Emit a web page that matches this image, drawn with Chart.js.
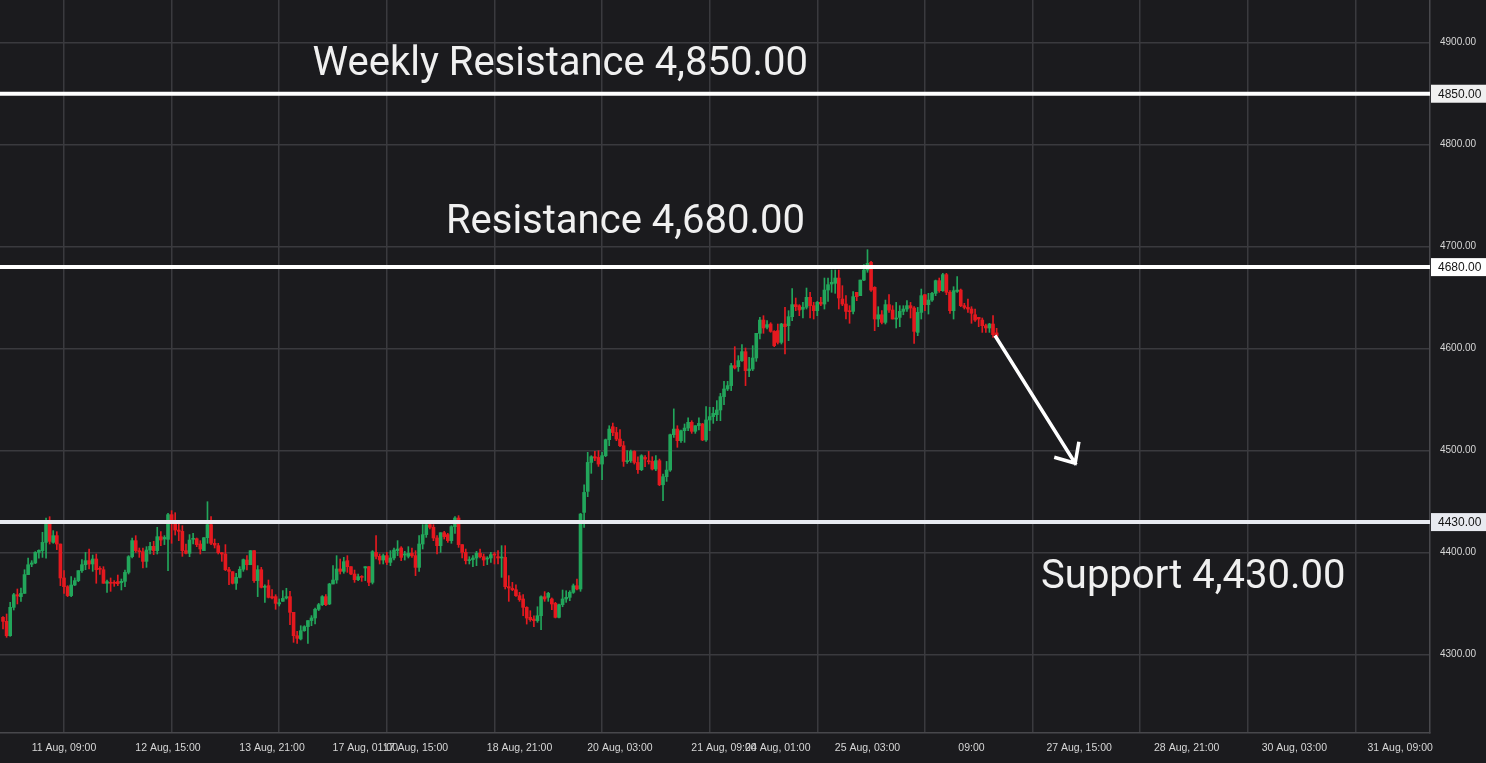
<!DOCTYPE html>
<html>
<head>
<meta charset="utf-8">
<script src="https://cdn.jsdelivr.net/npm/chart.js@4.4.1/dist/chart.umd.min.js"></script>
<style>
  html, body { margin: 0; padding: 0; background: #1b1b1e; }
  #wrap { width: 1486px; height: 763px; }
</style>
</head>
<body>
<div id="wrap"><canvas id="chart"></canvas></div>
<script>
// hourly candles, one per slot
const opens = [
  4336.6,4332.7,4318.6,4346.4,4358.8,4356.9,4360.1,4378.5,4388.6,4389.9,4400.3,4402.0,4410.1,4428.8,4410.1,4416.7,4408.5,4375.2,4366.7,4357.9,
  4368.3,4372.6,4382.4,4388.2,4392.2,4388.9,4393.8,4384.3,4383.3,4370.0,4370.9,4370.9,4371.6,4370.6,4371.9,4380.7,4396.1,4411.8,4402.0,4401.0,
  4391.5,4402.6,4406.2,4402.0,4415.7,4413.4,4413.1,4437.3,4428.1,4422.2,4420.9,4402.0,4399.4,4413.1,4413.7,4408.5,4402.0,4414.7,4427.5,4409.2,
  4406.9,4400.0,4398.7,4383.3,4381.4,4370.0,4375.8,4383.7,4392.8,4388.2,4402.0,4372.6,4383.3,4366.0,4367.7,4356.9,4356.9,4349.7,4352.3,4355.6,
  4356.9,4341.5,4318.6,4315.4,4323.5,4327.5,4333.4,4336.0,4344.5,4349.0,4356.9,4349.7,4369.3,4373.2,4384.0,4381.7,4392.2,4386.3,4379.1,4373.5,
  4376.5,4385.0,4386.3,4370.9,4400.3,4396.4,4392.8,4397.1,4390.5,4394.8,4402.0,4404.6,4397.7,4396.4,4399.4,4397.1,4385.6,4408.5,4417.7,4427.5,
  4424.9,4414.4,4406.9,4419.6,4417.7,4411.8,4425.5,4434.0,4407.9,4400.3,4392.2,4393.2,4394.8,4399.4,4396.1,4393.8,4394.8,4398.7,4396.1,4394.8,
  4395.4,4366.7,4365.0,4363.7,4357.8,4354.6,4346.4,4336.6,4334.9,4333.3,4338.2,4356.8,4356.2,4354.6,4350.3,4336.6,4349.0,4354.6,4356.2,4361.1,
  4367.6,4364.4,4439.5,4460.1,4488.5,4494.1,4493.4,4486.9,4495.1,4510.8,4523.5,4517.8,4511.4,4504.9,4489.2,4490.2,4499.3,4488.5,4481.4,4493.4,
  4490.2,4489.5,4482.0,4490.2,4466.6,4474.5,4481.0,4515.7,4521.2,4509.8,4519.6,4522.2,4527.8,4519.0,4524.5,4526.2,4510.5,4530.1,4533.4,4535.3,
  4539.9,4553.0,4560.5,4563.8,4583.4,4582.4,4588.3,4597.1,4578.5,4580.1,4590.9,4615.1,4628.1,4621.0,4624.2,4617.0,4617.7,4606.2,4624.2,4622.6,
  4631.4,4643.2,4642.2,4638.6,4640.6,4650.4,4642.2,4637.3,4645.5,4643.8,4657.5,4663.4,4664.1,4669.3,4648.7,4643.8,4636.6,4636.6,4655.3,4652.0,
  4667.3,4677.1,4684.7,4660.2,4629.1,4633.3,4625.8,4643.2,4637.9,4629.1,4630.7,4636.6,4638.9,4642.2,4639.9,4616.0,4635.6,4653.0,4643.2,4647.7,
  4654.3,4666.7,4656.9,4672.6,4655.3,4637.3,4656.2,4657.5,4642.2,4640.5,4638.9,4633.3,4630.7,4628.1,4622.6,4620.3,4624.2,4615.5
];
const highs = [
  4337.3,4339.9,4351.3,4360.1,4364.4,4365.4,4383.3,4394.8,4392.2,4401.0,4402.9,4420.0,4434.0,4435.3,4421.6,4420.6,4408.5,4382.4,4367.7,4376.5,
  4375.2,4382.4,4393.2,4400.3,4403.6,4397.7,4398.7,4386.3,4386.3,4373.2,4375.2,4372.6,4378.1,4374.2,4383.0,4397.1,4414.4,4416.7,4404.6,4404.6,
  4405.9,4410.1,4411.1,4424.9,4420.6,4416.7,4438.6,4441.2,4439.2,4428.1,4426.5,4408.5,4417.7,4419.0,4414.4,4411.8,4414.7,4450.0,4435.3,4413.4,
  4409.2,4400.3,4407.9,4385.6,4381.4,4379.8,4386.3,4393.8,4397.1,4402.0,4402.0,4387.3,4385.6,4368.6,4373.2,4363.7,4358.8,4354.6,4362.8,4365.1,
  4362.1,4341.5,4322.9,4328.4,4328.4,4333.4,4338.3,4345.8,4350.3,4357.9,4358.8,4370.0,4387.3,4397.1,4393.8,4395.4,4397.1,4386.3,4383.0,4379.1,
  4377.5,4386.3,4386.3,4402.0,4416.7,4398.7,4398.7,4400.3,4402.0,4404.6,4411.8,4405.9,4401.3,4405.9,4404.6,4402.0,4416.7,4427.5,4427.5,4430.7,
  4427.5,4416.7,4419.6,4420.9,4419.0,4426.5,4435.3,4436.3,4407.9,4403.6,4396.1,4397.1,4401.3,4403.6,4398.7,4396.1,4400.3,4400.3,4402.0,4406.9,
  4406.9,4377.5,4370.9,4368.6,4361.1,4358.8,4347.0,4343.1,4338.2,4347.0,4357.8,4361.8,4361.1,4355.6,4351.3,4349.7,4363.4,4362.7,4362.7,4369.3,
  4374.2,4438.5,4466.6,4498.4,4495.1,4499.4,4500.0,4498.4,4511.4,4524.5,4527.1,4522.9,4520.6,4509.1,4500.0,4500.6,4500.0,4494.1,4496.1,4495.1,
  4499.3,4494.1,4495.1,4491.8,4477.1,4489.5,4516.3,4541.0,4524.5,4520.3,4526.2,4532.1,4529.4,4524.5,4532.1,4526.8,4543.2,4542.5,4542.5,4549.1,
  4556.2,4568.0,4568.0,4585.7,4602.0,4593.2,4604.0,4600.7,4591.5,4603.0,4615.1,4630.8,4632.4,4627.5,4625.5,4617.7,4624.2,4624.9,4640.6,4637.3,
  4659.0,4649.7,4643.2,4645.5,4659.5,4655.3,4645.5,4646.4,4650.3,4669.3,4669.3,4677.1,4677.1,4677.1,4661.8,4652.0,4642.2,4655.9,4655.3,4667.3,
  4682.4,4697.1,4685.6,4660.8,4641.2,4637.3,4647.7,4653.0,4642.2,4645.4,4642.2,4642.2,4647.1,4645.4,4641.2,4640.5,4658.5,4653.0,4654.3,4655.3,
  4667.3,4669.3,4673.9,4673.9,4656.9,4660.8,4670.6,4658.5,4644.5,4648.7,4641.2,4638.9,4630.7,4630.1,4624.2,4624.9,4632.4,4620.0
];
const lows = [
  4325.2,4317.0,4318.0,4343.8,4349.7,4352.3,4360.1,4378.5,4386.3,4389.2,4394.5,4395.4,4394.5,4408.5,4409.2,4403.0,4367.7,4360.1,4356.9,4356.9,
  4367.7,4371.6,4380.7,4383.3,4384.0,4381.7,4370.0,4378.8,4370.0,4361.1,4362.1,4367.0,4367.7,4363.4,4366.7,4379.1,4394.8,4400.3,4395.4,4385.0,
  4385.6,4398.7,4398.1,4398.7,4406.9,4407.9,4382.4,4409.2,4417.3,4411.8,4396.4,4398.7,4396.1,4408.5,4405.9,4398.7,4402.0,4409.2,4407.9,4404.6,
  4398.7,4391.5,4382.4,4368.7,4369.3,4364.1,4375.2,4381.7,4383.0,4388.2,4370.9,4356.9,4365.4,4351.3,4355.6,4354.6,4344.5,4347.7,4352.3,4354.6,
  4329.4,4312.1,4311.1,4314.4,4322.9,4311.1,4328.4,4330.1,4343.2,4348.1,4348.1,4349.0,4369.3,4370.0,4379.1,4379.8,4380.7,4378.5,4370.9,4372.6,
  4371.9,4372.6,4367.7,4369.3,4393.8,4388.9,4388.9,4388.3,4387.3,4392.8,4397.1,4392.2,4392.8,4394.8,4395.4,4377.5,4381.7,4403.6,4415.0,4423.2,
  4411.8,4398.7,4400.3,4413.4,4410.1,4409.2,4419.0,4405.2,4394.8,4388.9,4388.9,4386.3,4387.3,4394.8,4387.3,4388.3,4390.5,4388.9,4388.9,4375.8,
  4364.4,4352.3,4362.7,4357.2,4352.3,4338.2,4330.0,4332.7,4327.4,4331.7,4324.5,4352.3,4352.3,4344.1,4336.0,4336.0,4347.0,4351.3,4352.9,4360.1,
  4363.4,4362.1,4424.8,4454.9,4477.8,4490.2,4484.6,4471.6,4494.1,4504.9,4514.7,4509.8,4503.9,4484.6,4487.6,4488.5,4486.9,4477.8,4480.4,4484.3,
  4486.9,4481.1,4480.4,4465.7,4451.0,4469.9,4479.7,4513.0,4503.3,4508.2,4508.2,4519.6,4517.0,4517.0,4520.3,4509.8,4509.2,4519.6,4526.8,4529.4,
  4529.4,4545.1,4558.9,4558.9,4580.1,4577.8,4587.6,4563.8,4572.6,4578.5,4587.6,4609.5,4615.1,4619.3,4616.1,4602.0,4604.6,4604.6,4594.8,4607.9,
  4627.5,4637.3,4632.4,4630.1,4638.9,4630.1,4629.1,4632.4,4642.2,4638.9,4646.4,4655.3,4654.3,4638.9,4642.2,4629.1,4624.9,4634.0,4647.1,4652.0,
  4666.7,4674.9,4656.2,4617.7,4621.6,4624.2,4624.2,4635.6,4629.1,4620.3,4621.6,4633.3,4636.6,4630.1,4605.2,4612.8,4629.1,4637.3,4634.0,4646.4,
  4652.0,4655.3,4656.2,4653.0,4634.7,4629.1,4655.3,4641.2,4638.9,4635.6,4624.9,4626.8,4621.6,4616.0,4616.0,4616.0,4611.1,4611.0
];
const closes = [
  4332.7,4318.6,4346.4,4358.8,4357.5,4360.1,4378.5,4388.2,4389.9,4400.3,4402.3,4410.1,4428.8,4411.1,4416.7,4408.5,4375.2,4366.7,4357.9,4368.3,
  4372.6,4382.4,4388.2,4392.2,4388.9,4393.8,4383.3,4383.7,4370.0,4371.6,4370.0,4370.0,4369.6,4371.9,4380.7,4396.1,4411.8,4402.0,4401.0,4391.5,
  4402.6,4406.2,4402.0,4415.7,4412.4,4415.0,4437.3,4432.0,4422.2,4420.9,4402.0,4399.4,4412.4,4413.7,4407.9,4403.6,4414.7,4427.5,4409.2,4407.5,
  4400.0,4398.7,4383.3,4381.7,4370.0,4375.8,4383.7,4393.2,4388.2,4402.0,4372.6,4383.3,4366.0,4367.0,4356.2,4355.6,4350.3,4351.0,4355.2,4356.9,
  4341.5,4318.6,4316.0,4323.5,4327.5,4333.4,4336.0,4344.5,4349.0,4356.9,4349.0,4369.3,4373.2,4384.0,4381.7,4391.2,4386.3,4379.1,4373.5,4376.5,
  4375.8,4386.3,4370.9,4401.0,4396.4,4392.8,4397.1,4390.5,4394.8,4402.6,4403.6,4395.4,4398.7,4399.4,4397.1,4385.6,4408.5,4417.7,4427.5,4424.9,
  4414.4,4406.9,4419.6,4415.7,4411.8,4425.5,4434.0,4407.9,4400.3,4392.2,4393.2,4394.8,4399.4,4396.1,4392.8,4394.8,4398.1,4397.7,4394.8,4395.4,
  4366.7,4365.4,4363.7,4357.8,4353.9,4346.4,4335.9,4334.3,4333.3,4338.2,4356.8,4354.6,4360.1,4349.7,4336.6,4349.0,4354.6,4356.2,4361.1,4367.6,
  4364.4,4437.9,4459.1,4488.5,4494.1,4492.8,4486.9,4495.1,4510.8,4521.2,4517.8,4511.4,4504.9,4489.5,4490.2,4499.3,4488.5,4481.4,4495.1,4491.8,
  4489.2,4482.0,4490.2,4466.6,4474.5,4481.0,4515.7,4521.2,4509.8,4519.6,4522.2,4527.8,4519.0,4524.5,4526.8,4510.5,4530.1,4533.4,4536.6,4539.9,
  4553.0,4560.5,4563.8,4583.4,4581.1,4588.3,4597.1,4578.5,4580.1,4590.9,4615.1,4628.1,4620.3,4623.6,4617.0,4603.0,4606.2,4624.2,4621.6,4631.4,
  4643.2,4641.2,4637.9,4640.6,4650.4,4642.2,4637.3,4645.5,4643.8,4657.5,4662.8,4665.1,4669.3,4649.7,4643.8,4636.6,4636.3,4651.0,4651.0,4667.3,
  4677.1,4683.7,4657.5,4629.1,4633.3,4625.8,4643.2,4637.9,4629.1,4630.1,4636.6,4638.9,4642.2,4639.9,4617.0,4635.6,4652.0,4643.2,4647.7,4654.3,
  4666.7,4656.9,4672.6,4655.3,4637.3,4656.9,4657.5,4642.2,4640.5,4638.9,4634.7,4628.1,4629.1,4622.6,4620.3,4624.2,4613.8,4612.5
];

// time axis: slot index of each label, and the labels themselves
const tickIdx = [17, 46, 75, 101, 115, 144, 172, 201, 216, 241, 270, 300, 330, 360, 389.5];
const tickLabels = ['11 Aug, 09:00', '12 Aug, 15:00', '13 Aug, 21:00', '17 Aug, 01:00', '17 Aug, 15:00',
  '18 Aug, 21:00', '20 Aug, 03:00', '21 Aug, 09:00', '24 Aug, 01:00', '25 Aug, 03:00', '09:00',
  '27 Aug, 15:00', '28 Aug, 21:00', '30 Aug, 03:00', '31 Aug, 09:00'];
const gridIdx = [17, 47, 77, 107, 137, 167, 197, 227, 257, 287, 317, 347, 377];
const yTicks = [4300, 4400, 4500, 4600, 4700, 4800, 4900];

// drawn levels
const levels = [4850, 4680, 4430];
const levelNames = ['Weekly Resistance 4,850.00', 'Resistance 4,680.00', 'Support 4,430.00'];

const UP = '#22a65b', DOWN = '#e5191f';
const GRID = '#3a3a3e';
const colors = opens.map((o, i) => closes[i] >= o ? UP : DOWN);

const levelPlugin = {
    id: 'levels',
    beforeDraw(chart) {
        const ctx = chart.ctx;
        ctx.save();
        ctx.fillStyle = '#1b1b1e';
        ctx.fillRect(0, 0, chart.width, chart.height);
        ctx.restore();
    },
    afterDatasetsDraw(chart, args, opts) {
        const { ctx, chartArea, scales: { x, y } } = chart;
        ctx.save();

        // level lines
        levels.forEach((lv, i) => {
            const py = y.getPixelForValue(lv);
            ctx.strokeStyle = opts.lineColors[i];
            ctx.lineWidth = 4;
            ctx.beginPath();
            ctx.moveTo(chartArea.left, py);
            ctx.lineTo(chartArea.right, py);
            ctx.stroke();
        });

        // captions
        ctx.fillStyle = '#f0f0f0';
        ctx.font = '40px Roboto';
        ctx.textBaseline = 'alphabetic';
        opts.captions.forEach((c, i) => {
            ctx.textAlign = c.align;
            ctx.fillText(levelNames[i], x.getPixelForValue(c.x), y.getPixelForValue(c.y));
        });

        // arrow
        const x1 = x.getPixelForValue(opts.arrow.from[0]), y1 = y.getPixelForValue(opts.arrow.from[1]);
        const x2 = x.getPixelForValue(opts.arrow.to[0]), y2 = y.getPixelForValue(opts.arrow.to[1]);
        const ang = Math.atan2(y2 - y1, x2 - x1);
        const head = 20, spread = Math.PI * 42 / 180;
        ctx.strokeStyle = '#ffffff';
        ctx.lineWidth = 3.5;
        ctx.lineCap = 'square';
        ctx.beginPath();
        ctx.moveTo(x1, y1);
        ctx.lineTo(x2, y2);
        ctx.moveTo(x2 - head * Math.cos(ang - spread), y2 - head * Math.sin(ang - spread));
        ctx.lineTo(x2, y2);
        ctx.lineTo(x2 - head * Math.cos(ang + spread), y2 - head * Math.sin(ang + spread));
        ctx.stroke();
        ctx.restore();
    },
    afterDraw(chart, args, opts) {
        const { ctx, chartArea, scales: { y } } = chart;
        ctx.save();
        ctx.font = '12px "Liberation Sans", Arial';
        ctx.textBaseline = 'middle';
        ctx.textAlign = 'left';
        levels.forEach((lv, i) => {
            const py = y.getPixelForValue(lv);
            ctx.fillStyle = opts.boxColors[i];
            ctx.fillRect(chartArea.right + 1, py - 9, chart.width - chartArea.right - 1, 18);
            ctx.fillStyle = '#131313';
            ctx.fillText(lv.toFixed(2), chartArea.right + 8, py + 0.5);
        });
        ctx.restore();
    }
};

new Chart(document.getElementById('chart'), {
    type: 'bar',
    data: {
        datasets: [{
            label: 'body',
            data: opens.map((o, i) => ({ x: i, y: [o, closes[i]] })),
            backgroundColor: colors,
            barThickness: 3,
            minBarLength: 1,
            grouped: false
        }, {
            label: 'wick',
            data: lows.map((l, i) => ({ x: i, y: [l, highs[i]] })),
            backgroundColor: colors,
            barThickness: 1,
            grouped: false
        }]
    },
    options: {
        responsive: true,
        maintainAspectRatio: false,
        animation: false,
        layout: { padding: 0 },
        plugins: {
            legend: { display: false },
            tooltip: { enabled: false },
            levels: {
                lineColors: ['#ffffff', '#ffffff', '#e8eaf0'],
                boxColors: ['#f0f0f0', '#ffffff', '#e8eaf0'],
                captions: [
                    { x: 224.4, y: 4868.4, align: 'right' },
                    { x: 223.6, y: 4713.5, align: 'right' },
                    { x: 289.4, y: 4365.4, align: 'left' }
                ],
                arrow: { from: [276.8, 4611.5], to: [298.9, 4487.7] }
            }
        },
        scales: {
            x: {
                type: 'linear',
                min: -0.84,
                max: 397.82,
                offset: false,
                grid: {
                    offset: false,
                    drawTicks: false,
                    lineWidth: 1.5,
                    color: ctx => (ctx.tick && ctx.tick.grid) ? GRID : 'rgba(0,0,0,0)'
                },
                border: { color: '#48484c', width: 1.5 },
                afterBuildTicks: scale => {
                    scale.ticks = gridIdx.map(v => ({ value: v, grid: true, name: '' }))
                        .concat(tickIdx.map((v, i) => ({ value: v, grid: false, name: tickLabels[i] })));
                },
                afterFit: scale => {
                    scale.height = 30;
                    scale.paddingLeft = 0;
                    scale.paddingRight = 0;
                },
                ticks: {
                    autoSkip: false,
                    maxRotation: 0,
                    padding: 9,
                    color: '#d6d6d6',
                    font: { size: 10.5, family: '"Liberation Sans", Arial' },
                    callback: (v, i, ticks) => ticks[i].name
                }
            },
            y: {
                type: 'linear',
                position: 'right',
                min: 4223.2,
                max: 4941.9,
                beginAtZero: false,
                grid: { color: GRID, lineWidth: 1.5, drawTicks: false },
                border: { color: '#48484c', width: 1.5 },
                afterBuildTicks: scale => {
                    scale.ticks = yTicks.map(v => ({ value: v }));
                },
                afterFit: scale => {
                    scale.width = 56;
                    scale.paddingTop = 0;
                    scale.paddingBottom = 0;
                },
                ticks: {
                    padding: 10,
                    color: '#d6d6d6',
                    font: { size: 10, family: '"Liberation Sans", Arial' },
                    callback: v => v.toFixed(2)
                }
            }
        }
    },
    plugins: [levelPlugin]
});
</script>
</body>
</html>
